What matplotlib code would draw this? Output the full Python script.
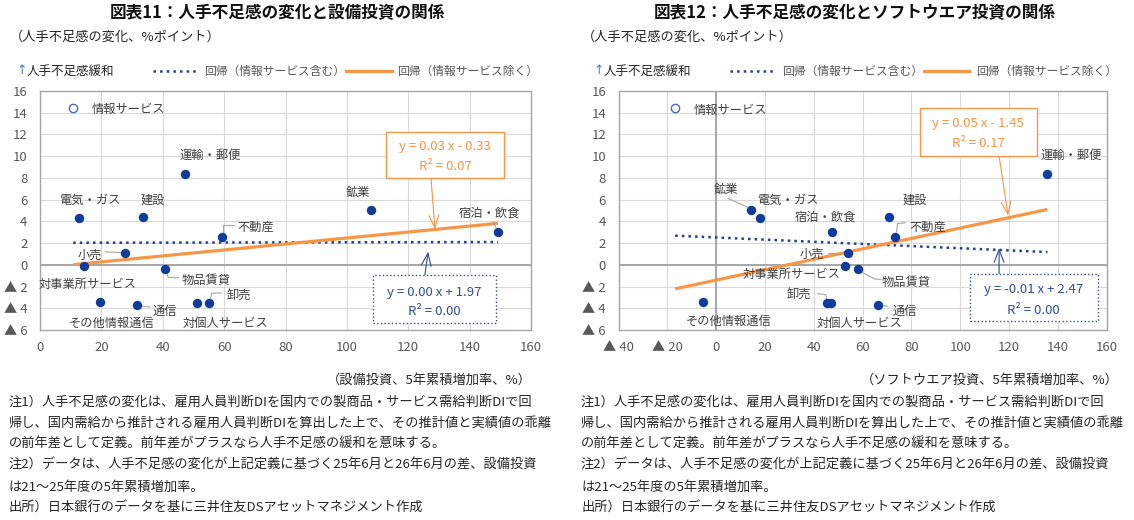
import numpy as np
import matplotlib.pyplot as plt
from matplotlib.lines import Line2D
from matplotlib.patches import Rectangle
from matplotlib.ticker import FuncFormatter, MultipleLocator

plt.rcParams['font.family'] = ['Noto Sans CJK JP', 'DejaVu Sans']

# --- data ---
industries = ['情報サービス', '運輸・郵便', '電気・ガス', '建設', '鉱業', '宿泊・飲食', '不動産',
              '小売', '対事業所サービス', '物品賃貸', 'その他情報通信', '通信', '対個人サービス', '卸売']
labor_change = [14.45, 8.4, 4.35, 4.4, 5.05, 3.05, 2.55, 1.08, -0.15, -0.42, -3.42, -3.67, -3.47, -3.53]
capex_growth = [10.8, 47.3, 12.8, 33.7, 107.7, 149.2, 59.4, 27.6, 14.5, 40.7, 19.5, 31.5, 51.2, 55.2]
software_growth = [-16.8, 135.7, 18.1, 71.0, 14.3, 47.6, 73.2, 54.1, 52.9, 57.9, -5.6, 66.2, 47.1, 45.3]

eq_capex = ['y = 0.03 x - 0.33', 'R² = 0.07', 'y = 0.00 x + 1.97', 'R² = 0.00']
eq_soft = ['y = 0.05 x - 1.45', 'R² = 0.17', 'y = -0.01 x + 2.47', 'R² = 0.00']

notes = ['注1）人手不足感の変化は、雇用人員判断DIを国内での製商品・サービス需給判断DIで回',
         '帰し、国内需給から推計される雇用人員判断DIを算出した上で、その推計値と実績値の乖離',
         'の前年差として定義。前年差がプラスなら人手不足感の緩和を意味する。',
         '注2）データは、人手不足感の変化が上記定義に基づく25年6月と26年6月の差、設備投資',
         'は21～25年度の5年累積増加率。',
         '出所）日本銀行のデータを基に三井住友DSアセットマネジメント作成']

# --- layout: label positions (data coords) and leader lines ---
labels_left = {
    '情報サービス': (16.7, 14.3, 'left'), '運輸・郵便': (55.4, 10.1, 'center'),
    '電気・ガス': (16.3, 5.94, 'center'), '建設': (36.8, 5.94, 'center'),
    '鉱業': (103.7, 6.67, 'center'), '宿泊・飲食': (146.3, 4.73, 'center'),
    '不動産': (64.4, 3.42, 'left'), '小売': (16.1, 0.91, 'center'),
    '対事業所サービス': (-0.3, -1.82, 'left'), '物品賃貸': (54.2, -1.48, 'center'),
    'その他情報通信': (23.3, -5.42, 'center'), '通信': (40.7, -4.24, 'center'),
    '対個人サービス': (60.3, -5.36, 'center'), '卸売': (64.7, -2.85, 'center'),
}
leaders_left = [
    [(59.5, 2.9), (59.5, 3.7), (63.3, 3.7)],
    [(21.3, 1.2), (26.2, 1.12)],
    [(41.2, -0.7), (41.8, -1.15), (45.2, -1.2)],
    [(32.3, -3.78), (35.8, -3.88)],
    [(55.5, -3.3), (55.9, -2.62), (59.2, -2.58)],
    [(147.6, 3.95), (148.6, 3.4)],
]
labels_right = {
    '情報サービス': (-9.1, 14.24, 'left'), '運輸・郵便': (145.6, 10.07, 'center'),
    '鉱業': (4.0, 6.93, 'center'), '電気・ガス': (29.4, 5.95, 'center'),
    '宿泊・飲食': (44.9, 4.37, 'center'), '建設': (81.3, 5.95, 'center'),
    '不動産': (79.1, 3.45, 'left'), '小売': (39.4, 1.0, 'center'),
    '対事業所サービス': (30.9, -0.92, 'center'), '物品賃貸': (77.9, -1.59, 'center'),
    'その他情報通信': (5.0, -5.19, 'center'), '卸売': (33.8, -2.84, 'center'),
    '対個人サービス': (58.8, -5.4, 'center'), '通信': (77.4, -4.27, 'center'),
}
leaders_right = [
    [(4.9, 6.1), (13.0, 5.3)],
    [(73.9, 3.0), (74.3, 3.8), (77.6, 3.88)],
    [(46.0, 1.13), (53.0, 1.13)],
    [(58.5, -0.55), (65.1, -1.31), (67.4, -1.35)],
    [(41.6, -2.66), (44.9, -2.75), (45.2, -3.2)],
    [(67.0, -3.7), (70.3, -3.82)],
]

NAVY = '#103c9c'
ORANGE = '#f79646'
BLUE_LINE = '#1f3f9a'
GRID = '#d9d9d9'
DARK = '#404040'
TICK = '#595959'

W, H = 1134, 520
fig = plt.figure(figsize=(W / 100, H / 100), dpi=100)


def fx(p):
    return p / W


def fy(p):
    return 1 - p / H


def neg_fmt(v, pos):
    return '▲ %d' % abs(v) if v < 0 else '%d' % v


def eq_box(ax, x0, x1, y0, y1, texts, text_ys, col, ls, start, tip):
    ax.annotate('', xy=tip, xytext=start,
                arrowprops=dict(arrowstyle='->,head_length=0.9,head_width=0.35',
                                color=col, lw=0.8, shrinkA=0, shrinkB=0), zorder=4)
    ax.add_patch(Rectangle((x0, y0), x1 - x0, y1 - y0, facecolor='white', edgecolor=col,
                           lw=1.0, ls=ls, zorder=5))
    for t, ty in zip(texts, text_ys):
        ax.text((x0 + x1) / 2, ty, t, ha='center', va='center', fontsize=9.5, color=col, zorder=6)


def panel(rect, xvals, xlim, labels, leaders, eqs, obox, bbox, vzero):
    ax = fig.add_axes(rect)
    x = np.array(xvals)
    y = np.array(labor_change)
    inc = np.array([n != '情報サービス' for n in industries])

    ax.set_xlim(*xlim)
    ax.set_ylim(-6, 16)
    ax.xaxis.set_major_locator(MultipleLocator(20))
    ax.yaxis.set_major_locator(MultipleLocator(2))
    ax.xaxis.set_major_formatter(FuncFormatter(neg_fmt))
    ax.yaxis.set_major_formatter(FuncFormatter(neg_fmt))
    ax.tick_params(length=0, labelsize=9.5, colors=TICK)
    ax.tick_params(axis='y', pad=9)
    ax.tick_params(axis='x', pad=8)
    ax.grid(True, color=GRID, lw=0.8)
    ax.set_axisbelow(True)
    for s in ax.spines.values():
        s.set_color('#a6a6a6')
        s.set_linewidth(1.0)
    ax.axhline(0, color='#a6a6a6', lw=1.4, zorder=1)
    if vzero:
        ax.axvline(0, color='#a6a6a6', lw=1.4, zorder=1)

    # regression lines
    xl = np.array([x.min(), x.max()])
    a1, b1 = np.polyfit(x, y, 1)
    a2, b2 = np.polyfit(x[inc], y[inc], 1)
    ax.plot(xl, a1 * xl + b1, ls=':', color=BLUE_LINE, lw=1.8, zorder=2)
    ax.plot(xl, a2 * xl + b2, color=ORANGE, lw=2.3, zorder=2, solid_capstyle='butt')

    ax.scatter(x[inc], y[inc], s=46, color=NAVY, zorder=3, linewidths=0)
    ax.scatter(x[~inc], y[~inc], s=36, facecolor='white', edgecolor='#4a6cc0', lw=1.0, zorder=3)

    for seg in leaders:
        sx, sy = zip(*seg)
        ax.plot(sx, sy, color='#a6a6a6', lw=0.8, zorder=2)
    for name, (lx, ly, ha) in labels.items():
        ax.text(lx, ly, name, ha=ha, va='center', fontsize=8.8, color=DARK, zorder=4)

    eq_box(ax, *obox[0], eqs[:2], obox[1], ORANGE, '-', obox[2], obox[3])
    eq_box(ax, *bbox[0], eqs[2:], bbox[1], '#2f4f9f', ':', bbox[2], bbox[3])
    return ax


ax_top, ax_bot = 91, 330
panel([fx(40), fy(ax_bot), fx(531 - 40), (ax_bot - ax_top) / H],
      capex_growth, (0, 160), labels_left, leaders_left, eq_capex,
      ((112.7, 151.2, 8.02, 12.25), (10.87, 9.03), (127.4, 8.02), (128.7, 3.27)),
      ((108.6, 148.5, -5.33, -0.94), (-2.53, -4.31), (125.4, -0.94), (126.5, 1.21)),
      False)
panel([fx(618.6), fy(ax_bot), fx(1106.7 - 618.6), (ax_bot - ax_top) / H],
      software_growth, (-40, 160), labels_right, leaders_right, eq_soft,
      ((83.5, 131.3, 10.04, 14.41), (13.02, 11.18), (115.9, 10.04), (119.6, 4.53)),
      ((103.8, 156.3, -5.13, -0.85), (-2.29, -4.18), (115.9, -0.85), (115.9, 1.53)),
      True)

# --- titles, legends, notes ---
cols = [
    dict(title='図表11：人手不足感の変化と設備投資の関係', tc=277,
         xt='（設備投資、5年累積増加率、%）', xr=532, nx=9,
         leg=(16, 153, 196, 204, 346, 392, 397)),
    dict(title='図表12：人手不足感の変化とソフトウエア投資の関係', tc=855,
         xt='（ソフトウエア投資、5年累積増加率、%）', xr=1119, nx=581,
         leg=(593, 730, 773, 782, 924, 969, 976)),
]
for c in cols:
    fig.text(fx(c['tc']), fy(13), c['title'], ha='center', va='center',
             fontsize=12, fontweight='bold', color='#111111')
    fig.text(fx(c['nx'] + 1), fy(37), '（人手不足感の変化、%ポイント）', ha='left', va='center',
             fontsize=9.5, color='#262626')
    ar, d0, d1, t1, o0, o1, t2 = c['leg']
    ly = 71
    fig.text(fx(ar), fy(ly), '↑', ha='left', va='center', fontsize=9, color='#3b7dd8',
             family='DejaVu Sans')
    fig.text(fx(ar + 11), fy(ly), '人手不足感緩和', ha='left', va='center', fontsize=9, color='#262626')
    fig.add_artist(Line2D([fx(d0), fx(d1)], [fy(ly), fy(ly)], ls=':', color=BLUE_LINE, lw=1.8,
                          transform=fig.transFigure))
    fig.add_artist(Line2D([fx(o0), fx(o1)], [fy(ly), fy(ly)], color=ORANGE, lw=2.3,
                          transform=fig.transFigure))
    fig.text(fx(t1), fy(ly), '回帰（情報サービス含む）', ha='left', va='center', fontsize=8.5, color=TICK)
    fig.text(fx(t2), fy(ly), '回帰（情報サービス除く）', ha='left', va='center', fontsize=8.5, color=TICK)
    fig.text(fx(c['xr']), fy(380), c['xt'], ha='right', va='center', fontsize=9.5, color='#262626')
    for i, line in enumerate(notes):
        fig.text(fx(c['nx']), fy(402 + i * 21.2), line, ha='left', va='center',
                 fontsize=9.5, color='#262626')

fig.savefig('out.png', dpi=100, facecolor='white')
